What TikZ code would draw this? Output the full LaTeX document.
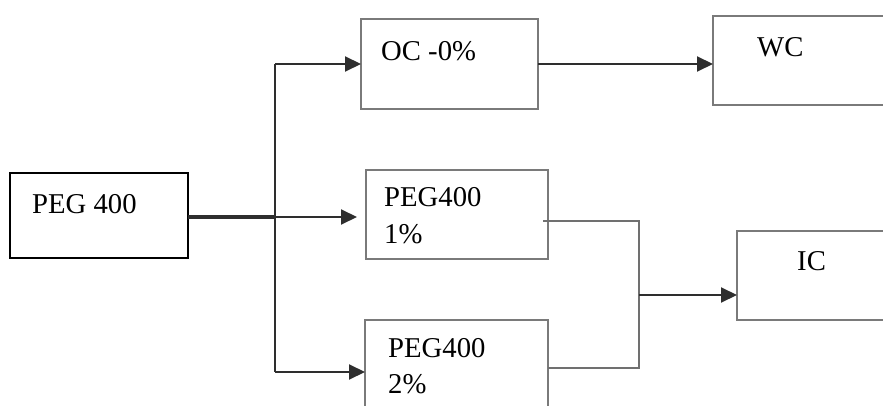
\documentclass[tikz,border=0pt]{standalone}
\usepackage{fontspec}
\setmainfont{Liberation Serif}
\usetikzlibrary{arrows.meta}
\definecolor{boxgray}{HTML}{7A7A7A}
\definecolor{linedark}{HTML}{2E2E2E}
\definecolor{linegray}{HTML}{707070}
\tikzset{
  stage/.style={draw=boxgray, line width=2.2pt, rectangle, inner sep=0pt, outer sep=0pt},
  source/.style={draw=black, line width=2.6pt, rectangle, inner sep=0pt, outer sep=0pt},
  lbl/.style={anchor=base west, inner sep=0pt, font=\fontsize{28.7}{34}\selectfont},
  feed/.style={draw=linedark, line width=2pt},
  merge/.style={draw=linegray, line width=1.6pt},
  tip/.style={-{Triangle[length=16pt,width=15pt]}}
}
\begin{document}
\begin{tikzpicture}[x=1pt,y=-1pt]
  \useasboundingbox (0,0) rectangle (883,406);
  \clip (0,0) rectangle (883,406);

  % boxes (corner to corner)
  \node[source, minimum width=178pt, minimum height=85pt] (peg) at (99,215.5) {};
  \node[stage, minimum width=177pt, minimum height=90pt] (oc) at (449.5,64) {};
  \node[stage, minimum width=177pt, minimum height=89pt] (wc) at (801.5,60.5) {};
  \node[stage, minimum width=182pt, minimum height=89pt] (p1) at (457,214.5) {};
  \node[stage, minimum width=160pt, minimum height=89pt] (ic) at (817,275.5) {};
  \node[stage, minimum width=183pt, minimum height=100pt] (p2) at (456.5,370) {};

  % labels
  \node[lbl] (tpeg) at (32,214) {PEG 400};
  \node[lbl] (toc) at (381,61) {OC -0\%};
  \node[lbl] (twc) at (757,57) {WC};
  \node[lbl] (tp1a) at (384,207) {PEG400};
  \node[lbl] (tp1b) at (384,243) {1\%};
  \node[lbl] (tic) at (797,270) {IC};
  \node[lbl] (tp2a) at (388,357) {PEG400};
  \node[lbl] (tp2b) at (388,393) {2\%};

  % junction points
  \coordinate (split) at (275,217);
  \coordinate (top) at (275,64);
  \coordinate (bot) at (275,372);
  \coordinate (midend) at (357,217);
  \coordinate (p1out) at (543,221);
  \coordinate (m1) at (639,221);
  \coordinate (m2) at (639,368);
  \coordinate (mmid) at (639,295);

  % splitter from the source box
  \draw[feed, line width=4.5pt] (peg.east |- split) -- (split);
  \draw[feed] (top) -- (bot);
  \draw[feed, tip] (top) -- (oc.west |- top);
  \draw[feed, tip] (split) -- (midend);
  \draw[feed, tip] (bot) -- (p2.west |- bot);

  % onward connections
  \draw[feed, tip] (oc.east) -- (wc.west |- oc.east);
  \draw[merge] (p1out) -- (m1) -- (m2) -- (p2.east |- m2);
  \draw[feed, tip] (mmid) -- (ic.west |- mmid);
\end{tikzpicture}
\end{document}
